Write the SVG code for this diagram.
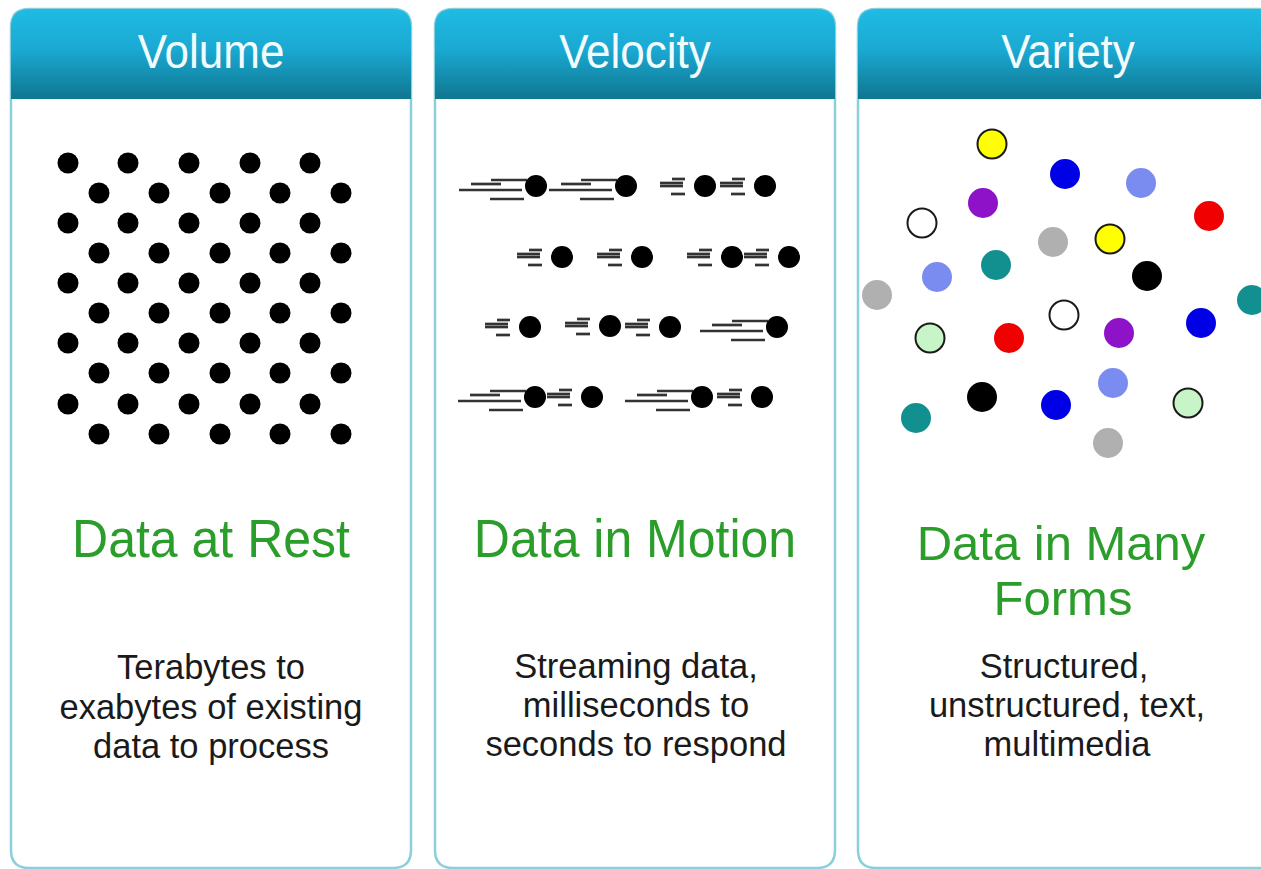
<svg xmlns="http://www.w3.org/2000/svg" xmlns:xlink="http://www.w3.org/1999/xlink" width="1261" height="869" viewBox="0 0 1261 869">
<style>
.panel{fill:#ffffff;stroke:#8ccfdc;stroke-width:2.5}
.hdr{fill:url(#hg)}
.htxt{font-family:"Liberation Sans",Arial,sans-serif;font-size:44px;fill:#f2fcff;text-anchor:middle}
.gtxt{font-family:"Liberation Sans",Arial,sans-serif;font-size:50px;fill:#2a9d2a;text-anchor:middle}
.btxt{font-family:"Liberation Sans",Arial,sans-serif;font-size:34.5px;fill:#1a1a1a;text-anchor:middle}
.dot{fill:#000}
.st{stroke:#333333;stroke-width:2.7}
.oc{stroke:#1a1a1a;stroke-width:2}
</style>
<defs>
<linearGradient id="hg" x1="0" y1="0" x2="0" y2="1">
<stop offset="0" stop-color="#1fbbe3"/>
<stop offset="0.45" stop-color="#1aa9d2"/>
<stop offset="1" stop-color="#0f7690"/>
</linearGradient>
<circle id="d" r="10.5" class="dot"/>
<g id="long">
<line class="st" x1="-45" y1="-6" x2="-9" y2="-6"/>
<line class="st" x1="-65" y1="-2" x2="-35" y2="-2"/>
<line class="st" x1="-77" y1="4" x2="-14" y2="4"/>
<line class="st" x1="-46" y1="13" x2="-12" y2="13"/>
<circle r="11" class="dot"/>
</g>
<g id="short">
<line class="st" x1="-33" y1="-7" x2="-20" y2="-7"/>
<line class="st" x1="-45" y1="-3" x2="-22" y2="-3"/>
<line class="st" x1="-45" y1="0" x2="-22" y2="0"/>
<line class="st" x1="-34" y1="8" x2="-20" y2="8"/>
<circle r="11" class="dot"/>
</g>
</defs>
<rect width="1261" height="869" fill="#ffffff"/>

<g id="volume">
<path class="panel" d="M11,27 Q11,9 29,9 H393 Q411,9 411,27 V850 Q411,868 393,868 H29 Q11,868 11,850 Z"/>
<path class="hdr" d="M11,27 Q11,9 29,9 H393 Q411,9 411,27 V99 H11 Z"/>
<text class="htxt" transform="translate(211,68) scale(1,1.08)">Volume</text>
<g id="volume-dots">
<use xlink:href="#d" x="68" y="163"/><use xlink:href="#d" x="128" y="163"/><use xlink:href="#d" x="189" y="163"/><use xlink:href="#d" x="250" y="163"/><use xlink:href="#d" x="310" y="163"/>
<use xlink:href="#d" x="99" y="193"/><use xlink:href="#d" x="159" y="193"/><use xlink:href="#d" x="220" y="193"/><use xlink:href="#d" x="280" y="193"/><use xlink:href="#d" x="341" y="193"/>
<use xlink:href="#d" x="68" y="223"/><use xlink:href="#d" x="128" y="223"/><use xlink:href="#d" x="189" y="223"/><use xlink:href="#d" x="250" y="223"/><use xlink:href="#d" x="310" y="223"/>
<use xlink:href="#d" x="99" y="253"/><use xlink:href="#d" x="159" y="253"/><use xlink:href="#d" x="220" y="253"/><use xlink:href="#d" x="280" y="253"/><use xlink:href="#d" x="341" y="253"/>
<use xlink:href="#d" x="68" y="283"/><use xlink:href="#d" x="128" y="283"/><use xlink:href="#d" x="189" y="283"/><use xlink:href="#d" x="250" y="283"/><use xlink:href="#d" x="310" y="283"/>
<use xlink:href="#d" x="99" y="313"/><use xlink:href="#d" x="159" y="313"/><use xlink:href="#d" x="220" y="313"/><use xlink:href="#d" x="280" y="313"/><use xlink:href="#d" x="341" y="313"/>
<use xlink:href="#d" x="68" y="343"/><use xlink:href="#d" x="128" y="343"/><use xlink:href="#d" x="189" y="343"/><use xlink:href="#d" x="250" y="343"/><use xlink:href="#d" x="310" y="343"/>
<use xlink:href="#d" x="99" y="373"/><use xlink:href="#d" x="159" y="373"/><use xlink:href="#d" x="220" y="373"/><use xlink:href="#d" x="280" y="373"/><use xlink:href="#d" x="341" y="373"/>
<use xlink:href="#d" x="68" y="404"/><use xlink:href="#d" x="128" y="404"/><use xlink:href="#d" x="189" y="404"/><use xlink:href="#d" x="250" y="404"/><use xlink:href="#d" x="310" y="404"/>
<use xlink:href="#d" x="99" y="434"/><use xlink:href="#d" x="159" y="434"/><use xlink:href="#d" x="220" y="434"/><use xlink:href="#d" x="280" y="434"/><use xlink:href="#d" x="341" y="434"/>
</g>
<text class="gtxt" transform="translate(211,557) scale(1,1.06)">Data at Rest</text>
<text class="btxt" x="211" y="679">Terabytes to</text>
<text class="btxt" x="211" y="719">exabytes of existing</text>
<text class="btxt" x="211" y="758">data to process</text>
</g>

<g id="velocity">
<path class="panel" d="M435,27 Q435,9 453,9 H817 Q835,9 835,27 V850 Q835,868 817,868 H453 Q435,868 435,850 Z"/>
<path class="hdr" d="M435,27 Q435,9 453,9 H817 Q835,9 835,27 V99 H435 Z"/>
<text class="htxt" transform="translate(635,68) scale(1,1.08)">Velocity</text>
<g id="velocity-streaks">
<use xlink:href="#long" x="536" y="186"/><use xlink:href="#long" x="626" y="186"/><use xlink:href="#short" x="705" y="186"/><use xlink:href="#short" x="765" y="186"/>
<use xlink:href="#short" x="562" y="257"/><use xlink:href="#short" x="642" y="257"/><use xlink:href="#short" x="732" y="257"/><use xlink:href="#short" x="789" y="257"/>
<use xlink:href="#short" x="530" y="327"/><use xlink:href="#short" x="610" y="326"/><use xlink:href="#short" x="670" y="327"/><use xlink:href="#long" x="777" y="327"/>
<use xlink:href="#long" x="535" y="397"/><use xlink:href="#short" x="592" y="397"/><use xlink:href="#long" x="702" y="397"/><use xlink:href="#short" x="762" y="397"/>
</g>
<text class="gtxt" transform="translate(635,557) scale(1,1.06)">Data in Motion</text>
<text class="btxt" x="636" y="678">Streaming data,</text>
<text class="btxt" x="636" y="717">milliseconds to</text>
<text class="btxt" x="636" y="756">seconds to respond</text>
</g>

<g id="variety">
<path class="panel" d="M858,27 Q858,9 876,9 H1262 Q1280,9 1280,27 V850 Q1280,868 1262,868 H876 Q858,868 858,850 Z"/>
<path class="hdr" d="M858,27 Q858,9 876,9 H1262 Q1280,9 1280,27 V99 H858 Z"/>
<text class="htxt" transform="translate(1068,68) scale(1,1.08)">Variety</text>
<g id="variety-circles">
<circle cx="992" cy="144" r="14.5" fill="#ffff00" class="oc"/>
<circle cx="1065" cy="174" r="15" fill="#0000e6"/>
<circle cx="1141" cy="183" r="15" fill="#7b8cf0"/>
<circle cx="983" cy="203" r="15" fill="#8e12c8"/>
<circle cx="922" cy="223" r="14.5" fill="#ffffff" class="oc"/>
<circle cx="1209" cy="216" r="15" fill="#f00000"/>
<circle cx="1053" cy="242" r="15" fill="#b0b0b0"/>
<circle cx="1110" cy="239" r="14.5" fill="#ffff00" class="oc"/>
<circle cx="996" cy="265" r="15" fill="#129090"/>
<circle cx="937" cy="277" r="15" fill="#7b8cf0"/>
<circle cx="1147" cy="276" r="15" fill="#000000"/>
<circle cx="877" cy="295" r="15" fill="#b0b0b0"/>
<circle cx="1252" cy="300" r="15" fill="#129090"/>
<circle cx="1064" cy="315" r="14.5" fill="#ffffff" class="oc"/>
<circle cx="1201" cy="323" r="15" fill="#0000e6"/>
<circle cx="930" cy="338" r="14.5" fill="#c8f5c8" class="oc"/>
<circle cx="1009" cy="338" r="15" fill="#f00000"/>
<circle cx="1119" cy="333" r="15" fill="#8e12c8"/>
<circle cx="1113" cy="383" r="15" fill="#7b8cf0"/>
<circle cx="982" cy="397" r="15" fill="#000000"/>
<circle cx="1056" cy="405" r="15" fill="#0000e6"/>
<circle cx="1188" cy="403" r="14.5" fill="#c8f5c8" class="oc"/>
<circle cx="916" cy="418" r="15" fill="#129090"/>
<circle cx="1108" cy="443" r="15" fill="#b0b0b0"/>
</g>
<text class="gtxt" x="1061" y="560" style="font-size:49px">Data in Many</text>
<text class="gtxt" x="1063" y="615" style="font-size:49px">Forms</text>
<text class="btxt" x="1064" y="678">Structured,</text>
<text class="btxt" x="1067" y="717">unstructured, text,</text>
<text class="btxt" x="1067" y="756">multimedia</text>
</g>
</svg>
